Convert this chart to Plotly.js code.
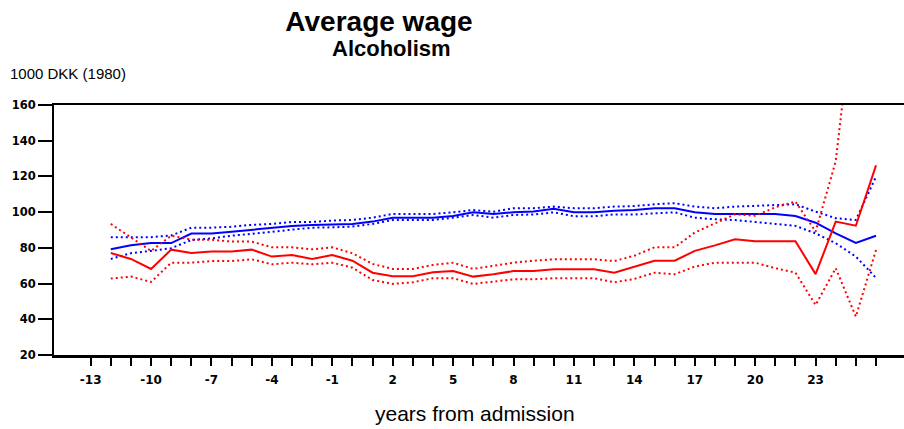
<!DOCTYPE html>
<html>
<head>
<meta charset="utf-8">
<script src="https://cdn.plot.ly/plotly-3.0.1.min.js"></script>
<style>html,body{margin:0;padding:0;background:#fff;}#chart{width:904px;height:429px;}</style>
</head>
<body>
<div id="chart"></div>
<script>
// Years from admission
const years = [-12,-11,-10,-9,-8,-7,-6,-5,-4,-3,-2,-1,0,1,2,3,4,5,6,7,8,9,10,11,12,13,14,15,16,17,18,19,20,21,22,23,24,25,26];

// Alcoholism group (red): mean and confidence band
const redMean  = [77.1,73.8,68.2,79,77.1,78,78,79,75.1,76,73.8,76,72.8,66.1,64.1,64.1,66.3,67,63.9,65.2,67,67,68,68,68,66.1,69.5,72.8,72.8,78.3,81.4,84.8,83.7,83.7,83.7,65.3,94.7,92.4,126.2];
const redUpper = [93.4,85.7,78.3,86.8,84.6,84.6,83.5,83.5,80.3,80.3,79.2,80.3,77,71,68.2,68.2,70.4,71.7,68.2,69.9,71.7,72.8,73.6,73.6,73.6,72.6,75.6,80.3,80.3,88.6,93.8,98.8,98,102.7,105.9,89.1,128.5,226,240];
const redLower = [62.8,63.9,60.9,71.7,71.7,72.6,72.6,73.6,70.8,71.7,70.8,71.7,68.9,62,59.8,60.7,63,63,59.8,61.1,62.4,62.4,63,63,63,60.7,62.6,66.1,65.2,69.5,71.7,71.7,71.7,68.6,66.1,48,68.6,41.5,78.8];

// Comparison group (blue): mean and confidence band
const blueMean  = [79.2,81.4,82.7,82.7,88,88,89,90.2,91.3,92.3,92.8,93.2,93.3,94.7,96.9,96.9,96.9,97.8,99.9,99,99.9,100.3,101.9,99.9,99.9,100.8,101.2,102.2,102.2,99.9,99,99,99,99,97.8,94.1,88.1,82.8,86.8];
const blueUpper = [86,86,86,86.9,91.3,91.3,91.8,92.9,93.4,94.5,94.5,95.3,95.6,96.9,99,99,99,99.9,101.2,100.2,102.2,102.2,103.1,102.2,102.2,103.1,103.4,104.4,105,103.1,102.2,103.1,103.4,104,104.4,100.3,96.6,95.6,119.9];
const blueLower = [73.8,77,78.3,79.8,84.4,85.3,86.8,88.1,89,90.2,91.3,91.5,91.9,93.4,95.6,95.6,95.6,96.9,98.4,96.9,98.4,98.7,99.9,97.7,97.7,98.7,98.7,99.3,99.9,96.9,96,95.6,94.3,93.4,92.3,88.1,82.6,75.1,63.2];

// Axis ticks
const xTickVals = [-13,-12,-11,-10,-9,-8,-7,-6,-5,-4,-3,-2,-1,0,1,2,3,4,5,6,7,8,9,10,11,12,13,14,15,16,17,18,19,20,21,22,23,24,25,26];
const xTickText = xTickVals.map(v => ((v + 13) % 3 === 0 && v <= 23) ? String(v) : '');
const yTickVals = [20,40,60,80,100,120,140,160];

const RED = '#ff0000', BLUE = '#0000ff';
const dotted = '2px,3px';

const traces = [
  {x: years, y: blueUpper, mode: 'lines', line: {color: BLUE, width: 2, dash: dotted}},
  {x: years, y: blueLower, mode: 'lines', line: {color: BLUE, width: 2, dash: dotted}},
  {x: years, y: blueMean,  mode: 'lines', line: {color: BLUE, width: 2}},
  {x: years, y: redUpper,  mode: 'lines', line: {color: RED, width: 2, dash: dotted}},
  {x: years, y: redLower,  mode: 'lines', line: {color: RED, width: 2, dash: dotted}},
  {x: years, y: redMean,   mode: 'lines', line: {color: RED, width: 2}}
];

const FONT = 'Liberation Sans, Arial, sans-serif';
const TICKFONT = 'DejaVu Sans, Liberation Sans, Arial, sans-serif';

const layout = {
  width: 904, height: 429,
  margin: {l: 54, r: 0, t: 105, b: 74},
  paper_bgcolor: '#fff', plot_bgcolor: '#fff',
  showlegend: false,
  font: {family: FONT, color: '#000'},
  title: {
    text: 'Average wage',
    font: {family: FONT, size: 28, weight: 'bold', color: '#000'},
    x: 379/904, xanchor: 'center', xref: 'container',
    y: 1 - 21/429, yanchor: 'middle', yref: 'container'
  },
  xaxis: {
    range: [-14.82, 27.39],
    tickmode: 'array', tickvals: xTickVals, ticktext: xTickText,
    ticks: 'outside', ticklen: 8, tickwidth: 2, tickcolor: '#000',
    ticklabelstandoff: 4,
    showline: true, linewidth: 2.5, linecolor: '#000', mirror: true,
    showgrid: false, zeroline: false,
    tickfont: {family: TICKFONT, size: 12, weight: 'bold', color: '#000'}
  },
  yaxis: {
    range: [20, 160],
    tickmode: 'array', tickvals: yTickVals,
    ticks: 'outside', ticklen: 14, tickwidth: 2, tickcolor: '#000',
    showline: true, linewidth: 2, linecolor: '#000',
    showgrid: false, zeroline: false,
    tickfont: {family: TICKFONT, size: 11.5, weight: 'bold', color: '#000'}
  },
  annotations: [
    {text: 'Alcoholism', xref: 'paper', yref: 'paper', x: (391-54)/850, y: (355-48)/250,
     xanchor: 'center', yanchor: 'middle', showarrow: false,
     font: {family: FONT, size: 22, weight: 'bold', color: '#000'}},
    {text: '1000 DKK (1980)', xref: 'paper', yref: 'paper', x: (8-54)/850, y: (355-74)/250,
     xanchor: 'left', yanchor: 'middle', showarrow: false,
     font: {family: FONT, size: 15, color: '#000'}},
    {text: 'years from admission', xref: 'paper', yref: 'paper', x: (475-54)/850, y: (355-413)/250,
     xanchor: 'center', yanchor: 'middle', showarrow: false,
     font: {family: FONT, size: 21, color: '#000'}}
  ]
};

Plotly.newPlot('chart', traces, layout, {staticPlot: true, displayModeBar: false});
</script>
</body>
</html>
